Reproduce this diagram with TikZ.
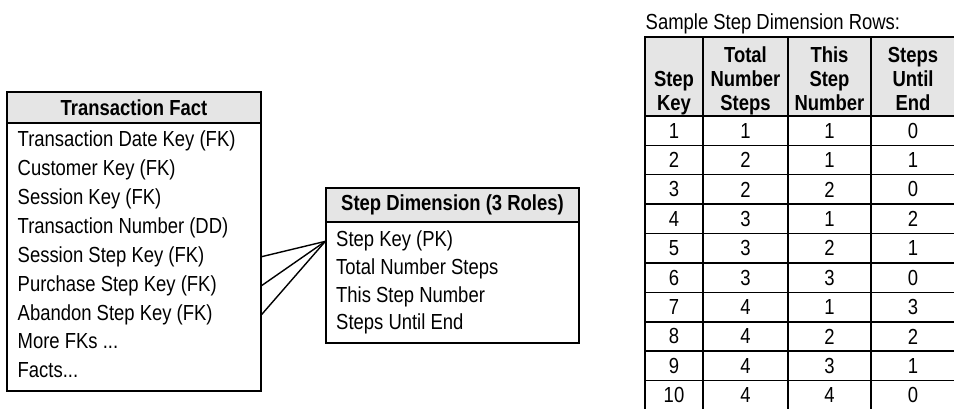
\documentclass[tikz,border=0pt]{standalone}
\usepackage{fontspec}
\setmainfont{Liberation Sans}[FakeStretch=0.847]

\begin{document}
\begin{tikzpicture}[font=\fontsize{12.4pt}{14pt}\selectfont, line width=0.8pt,
  tbox/.style={draw, inner sep=0pt},
  head/.style={draw, fill=black!10, inner sep=0pt, font=\fontsize{12.4pt}{14pt}\selectfont\bfseries},
  row/.style={anchor=base west, inner sep=0pt},
  cell/.style={draw, minimum height=5.88mm, inner sep=0pt},
  hcell/.style={draw, fill=black!10, minimum height=15.8mm, inner sep=0pt},
  htext/.style={anchor=base, align=center, inner sep=0pt, font=\fontsize{12.4pt}{13.7pt}\selectfont\bfseries},
  kcol/.style={cell, minimum width=11.6mm},
  tcol/.style={cell, minimum width=17.0mm},
  ncol/.style={cell, minimum width=16.6mm},
  ecol/.style={cell, minimum width=16.8mm}]

\useasboundingbox (0,0) rectangle (19.08,-8.18);

% ---- the fact table ----------------------------------------------------------------
\node[tbox, minimum width=50.8mm, minimum height=59.8mm] (fact) at (2.68,-4.83) {};
\node[head, minimum width=50.8mm, minimum height=6.2mm] (facth) at (2.68,-2.15) {Transaction Fact};
\node[row] (f1) at (0.34,-2.934) {Transaction Date Key (FK)};
\node[row] (f2) at (0.34,-3.512) {Customer Key (FK)};
\node[row] (f3) at (0.34,-4.090) {Session Key (FK)};
\node[row] (f4) at (0.34,-4.668) {Transaction Number (DD)};
\node[row] (f5) at (0.34,-5.246) {Session Step Key (FK)};
\node[row] (f6) at (0.34,-5.824) {Purchase Step Key (FK)};
\node[row] (f7) at (0.34,-6.402) {Abandon Step Key (FK)};
\node[row] (f8) at (0.34,-6.980) {More FKs ...};
\node[row] (f9) at (0.34,-7.558) {Facts...};

% ---- the step dimension ------------------------------------------------------------
\node[tbox, minimum width=50.6mm, minimum height=31mm] (step) at (9.05,-5.31) {};
\node[head, minimum width=50.6mm, minimum height=6.8mm] (steph) at (9.05,-4.10) {Step Dimension (3 Roles)};
\node[row] (s1) at (6.71,-4.940) {Step Key (PK)};
\node[row] (s2) at (6.71,-5.494) {Total Number Steps};
\node[row] (s3) at (6.71,-6.048) {This Step Number};
\node[row] (s4) at (6.71,-6.600) {Steps Until End};

\draw (fact.east |- f5) -- (step.west |- s1);
\draw (fact.east |- f6) -- (step.west |- s1);
\draw (fact.east |- f7) -- (step.west |- s1);

% ---- the sample rows ---------------------------------------------------------------
\node[row] (title) at (12.90,-0.60) {Sample Step Dimension Rows:};

\node[hcell, minimum width=11.6mm] (hk) at (13.48,-1.53) {};
\node[hcell, minimum width=17.0mm] (ht) at (14.91,-1.53) {};
\node[hcell, minimum width=16.6mm] (hn) at (16.59,-1.53) {};
\node[hcell, minimum width=16.8mm] (he) at (18.26,-1.53) {};
\node[htext] (hkt) at (13.48,-2.214) {Step\\Key};
\node[htext] (htt) at (14.91,-2.214) {Total\\Number\\Steps};
\node[htext] (hnt) at (16.59,-2.214) {This\\Step\\Number};
\node[htext] (het) at (18.26,-2.214) {Steps\\Until\\End};

\node[kcol] (r1a) at (13.48,-2.614) {1};  \node[tcol] (r1b) at (14.91,-2.614) {1};
\node[ncol] (r1c) at (16.59,-2.614) {1};  \node[ecol] (r1d) at (18.26,-2.614) {0};
\node[kcol] (r2a) at (13.48,-3.202) {2};  \node[tcol] (r2b) at (14.91,-3.202) {2};
\node[ncol] (r2c) at (16.59,-3.202) {1};  \node[ecol] (r2d) at (18.26,-3.202) {1};
\node[kcol] (r3a) at (13.48,-3.790) {3};  \node[tcol] (r3b) at (14.91,-3.790) {2};
\node[ncol] (r3c) at (16.59,-3.790) {2};  \node[ecol] (r3d) at (18.26,-3.790) {0};
\node[kcol] (r4a) at (13.48,-4.378) {4};  \node[tcol] (r4b) at (14.91,-4.378) {3};
\node[ncol] (r4c) at (16.59,-4.378) {1};  \node[ecol] (r4d) at (18.26,-4.378) {2};
\node[kcol] (r5a) at (13.48,-4.966) {5};  \node[tcol] (r5b) at (14.91,-4.966) {3};
\node[ncol] (r5c) at (16.59,-4.966) {2};  \node[ecol] (r5d) at (18.26,-4.966) {1};
\node[kcol] (r6a) at (13.48,-5.554) {6};  \node[tcol] (r6b) at (14.91,-5.554) {3};
\node[ncol] (r6c) at (16.59,-5.554) {3};  \node[ecol] (r6d) at (18.26,-5.554) {0};
\node[kcol] (r7a) at (13.48,-6.142) {7};  \node[tcol] (r7b) at (14.91,-6.142) {4};
\node[ncol] (r7c) at (16.59,-6.142) {1};  \node[ecol] (r7d) at (18.26,-6.142) {3};
\node[kcol] (r8a) at (13.48,-6.730) {8};  \node[tcol] (r8b) at (14.91,-6.730) {4};
\node[ncol] (r8c) at (16.59,-6.730) {2};  \node[ecol] (r8d) at (18.26,-6.730) {2};
\node[kcol] (r9a) at (13.48,-7.318) {9};  \node[tcol] (r9b) at (14.91,-7.318) {4};
\node[ncol] (r9c) at (16.59,-7.318) {3};  \node[ecol] (r9d) at (18.26,-7.318) {1};
\node[kcol] (r10a) at (13.48,-7.906) {10}; \node[tcol] (r10b) at (14.91,-7.906) {4};
\node[ncol] (r10c) at (16.59,-7.906) {4};  \node[ecol] (r10d) at (18.26,-7.906) {0};

\end{tikzpicture}
\end{document}
